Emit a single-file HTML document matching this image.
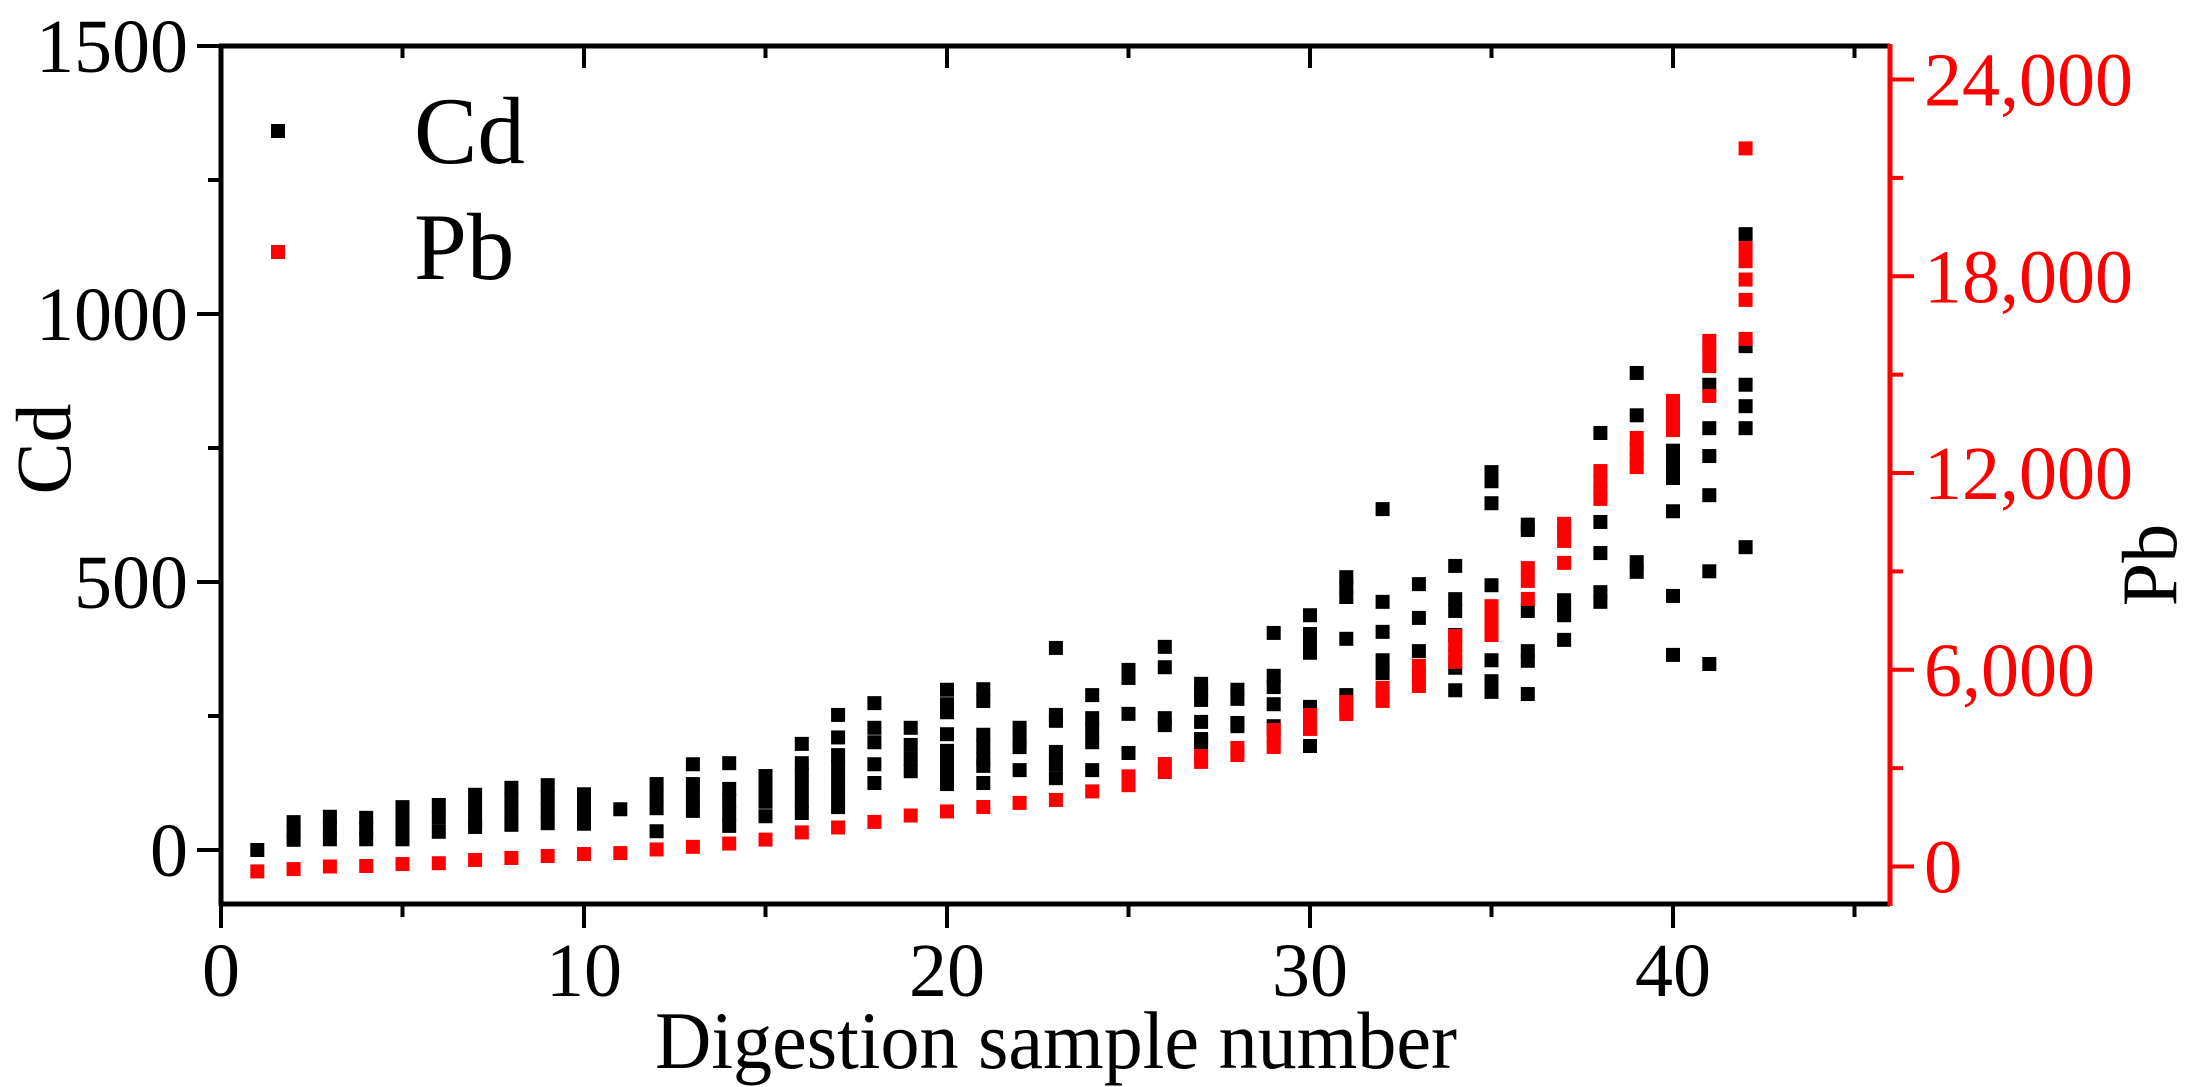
<!DOCTYPE html>
<html><head><meta charset="utf-8"><style>
html,body{margin:0;padding:0;background:#fff;}
svg{display:block;font-family:"Liberation Serif",serif;}
</style></head><body>
<svg id="chart" width="2187" height="1087" viewBox="0 0 2187 1087" xmlns="http://www.w3.org/2000/svg">
<g id="axes"></g>
<g id="marks"></g>
<g id="legend">
  <rect x="271" y="124" width="14" height="14" fill="#000"/>
  <text x="414" y="163" font-size="95" fill="#000">Cd</text>
  <rect x="271" y="245" width="14" height="14" fill="#f00"/>
  <text x="414" y="279" font-size="95" fill="#000">Pb</text>
</g>
<text x="1056" y="1068" font-size="82" text-anchor="middle" textLength="802" lengthAdjust="spacingAndGlyphs">Digestion sample number</text>
<text transform="translate(70,449) rotate(-90)" font-size="78" text-anchor="middle">Cd</text>
<text transform="translate(2176,565) rotate(-90)" font-size="78" text-anchor="middle">Pb</text>
</svg>
<script>
const samples = [1,2,3,4,5,6,7,8,9,10,11,12,13,14,15,16,17,18,19,20,21,22,23,24,25,26,27,28,29,30,31,32,33,34,35,36,37,38,39,40,41,42];
const cdValues = [
[0],[52,35,19],[62,42,20],[60,40,20],[80,69,45,20],[84,60,34],[103,78,55,43],[116,94,70,47],[121,98,74,50],[104,80,58,49],
[76],[123,100,78,35],[160,123,98,73],[162,114,92,68,45],[138,115,90,63],[198,162,140,116,92,69],[252,210,177,155,130,105,80],[274,228,201,160,125],[228,196,170,147],[299,272,257,216,185,162,140,123],
[300,278,215,193,170,157,125],[228,205,192,149],[377,252,241,183,160,134],[289,246,224,201,149],[336,321,254,181],[379,341,246,233],[310,295,280,239,207,201],[299,282,237,231],[405,325,304,272,231],[438,403,385,368,267,194],
[509,490,472,394,289],[636,463,407,354,330],[496,433,371],[530,468,446,401,340,298],[705,688,647,494,354,315,295],[607,597,446,371,353,291],[466,450,438,392],[778,612,554,481,463],[890,811,537,519],[745,720,694,632,474,364],
[868,787,735,662,520,347],[1149,940,868,828,787,565]
];
const pbValues = [
[-150],[-80],[0],[15],[75],[100],[200],[260],[320],[380],
[410],[520],[600],[700],[820],[1040],[1190],[1360],[1555],[1680],
[1815],[1940],[2030],[2290],[2750,2480],[3125,2880],[3370,3190],[3615,3400],[4165,3900,3645],[4620,4400,4195],
[5015,4800,4650],[5445,5250,5050],[6115,5800,5505],[7030,6750,6500,6240],[7940,7650,7350,7060],[9100,8710,8160],[10450,10200,9930,9260],[12060,11750,11450,11210],[13070,12750,12450,12180],[14200,13900,13600,13310],
[16030,15650,15260,14350],[21900,18860,18460,17900,17280,16090]
];
const xTicks = [0,10,20,30,40];
const xMinor = [5,15,25,35,45];
const leftTicks = [0,500,1000,1500];
const leftMinor = [250,750,1250];
const rightTicks = [0,6000,12000,18000,24000];
const rightTickLabels = ["0","6,000","12,000","18,000","24,000"];
const rightMinor = [3000,9000,15000,21000];

const L=221,R=1890,T=46,B=904;
const xS = v => L + v*36.3;
const yL = v => 850 - v*0.536;
const yR = v => 866.5 - v*0.03279;
const NS="http://www.w3.org/2000/svg";
const axes=document.getElementById('axes');
const marks=document.getElementById('marks');
function mk(tag, attrs, parent){const e=document.createElementNS(NS,tag);for(const k in attrs)e.setAttribute(k,attrs[k]);parent.appendChild(e);return e;}
function line(x1,y1,x2,y2,c,w,name){const e=mk('line',{x1:x1,y1:y1,x2:x2,y2:y2,stroke:c,'stroke-width':w},axes);


return e;}
// frame
line(L,B,R,B,'#000',5,'x-axis-line');
line(L-2,T,R,T,'#000',5,'top-axis-line');
line(L,T-2,L,B+2,'#000',5,'left-y-axis-line');
line(R,T-2,R,B+2,'#f00',5,'right-y-axis-line');
// x ticks
xTicks.forEach(v=>{const x=xS(v);
line(x,B,x,B+24,'#000',4,'x-major-tick');
line(x,T,x,T+22,'#000',4,'top-major-tick');
const t=mk('text',{x:x,y:996,'font-size':76,'text-anchor':'middle'},axes);t.textContent=v;


});
xMinor.forEach(v=>{const x=xS(v);
line(x,B,x,B+13,'#000',4,'x-minor-tick');
line(x,T,x,T+12,'#000',4,'top-minor-tick');
});
// left ticks
leftTicks.forEach(v=>{const y=yL(v);
line(L-24,y,L,y,'#000',4,'left-major-tick');
const t=mk('text',{x:188,y:y+26,'font-size':76,'text-anchor':'end'},axes);t.textContent=v;


});
leftMinor.forEach(v=>{const y=yL(v);line(L-13,y,L,y,'#000',4,'left-minor-tick');});
// right ticks
rightTicks.forEach((v,i)=>{const y=yR(v);
line(R,y,R+24,y,'#f00',4,'right-major-tick');
const t=mk('text',{x:1924,y:y+26,'font-size':76,fill:'#f00'},axes);t.textContent=rightTickLabels[i];


});
rightMinor.forEach(v=>{const y=yR(v);line(R,y,R+13,y,'#f00',4,'right-minor-tick');});
// marks
const S=14;
samples.forEach((s,i)=>{cdValues[i].forEach(v=>{
const r=mk('rect',{x:xS(s)-S/2,y:yL(v)-S/2,width:S,height:S,fill:'#000'},marks);


});});
samples.forEach((s,i)=>{pbValues[i].forEach(v=>{
const r=mk('rect',{x:xS(s)-S/2,y:yR(v)-S/2,width:S,height:S,fill:'#f00'},marks);


});});
</script>
</body></html>
